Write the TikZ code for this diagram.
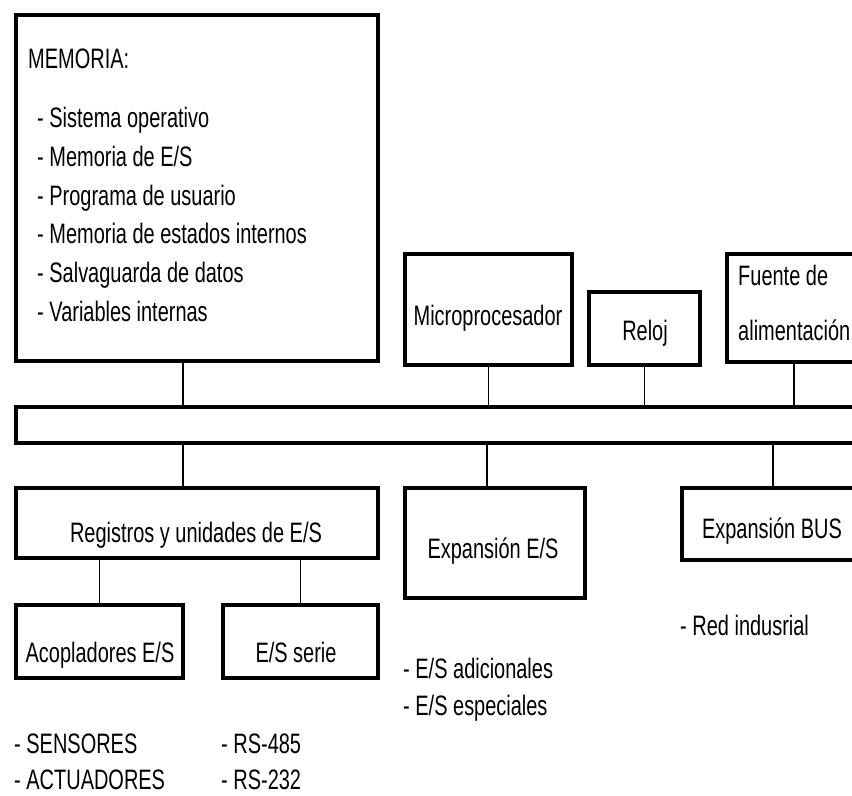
\documentclass[tikz,border=0pt]{standalone}
\usepackage{fontspec}
\setmainfont{Liberation Sans}[FakeStretch=0.71]
\usetikzlibrary{positioning}

\begin{document}
\begin{tikzpicture}[x=0.03cm, y=-0.03cm,
  blk/.style={draw, line width=3.4pt, inner sep=0pt},
  wire/.style={line width=1.2pt},
  lbl/.style={inner sep=0pt, anchor=base, font=\fontsize{24}{28}\selectfont},
  item/.style={lbl, anchor=base west}
]
  \clip (0,0) rectangle (852,795);
  \fill[white] (0,0) rectangle (852,795);
  % CPU side
  \node[blk, minimum width=10.86cm, minimum height=10.38cm] (mem) at (197,188) {};
  \node[blk, minimum width=5.01cm, minimum height=3.33cm] (cpu) at (488.5,309.5) {};
  \node[blk, minimum width=3.33cm, minimum height=2.19cm] (clk) at (644.5,328.5) {};
  \node[blk, minimum width=4.02cm, minimum height=3.24cm] (psu) at (794,308) {};
  % bus
  \node[blk, minimum width=26.52cm, minimum height=1.08cm] (bus) at (458,425) {};
  % I/O side
  \node[blk, minimum width=10.86cm, minimum height=2.1cm] (reg) at (197,523) {};
  \node[blk, minimum width=5.4cm, minimum height=3.3cm] (exio) at (495,543) {};
  \node[blk, minimum width=5.46cm, minimum height=2.16cm] (exbus) at (773,524) {};
  \node[blk, minimum width=5.01cm, minimum height=2.19cm] (acop) at (99.5,641.5) {};
  \node[blk, minimum width=4.65cm, minimum height=2.19cm] (ser) at (300.5,641.5) {};

  % connections to the bus
  \coordinate (memtap) at ([xshift=-0.42cm]mem.south);
  \draw[wire] (memtap) -- (memtap |- bus.north);
  \draw[wire] (cpu.south) -- (cpu.south |- bus.north);
  \draw[wire] (clk.south) -- (clk.south |- bus.north);
  \draw[wire] (psu.south) -- (psu.south |- bus.north);
  \coordinate (regtap) at ([xshift=-0.42cm]reg.north);
  \draw[wire] (regtap |- bus.south) -- (regtap);
  \coordinate (exiotap) at ([xshift=-0.24cm]exio.north);
  \draw[wire] (exiotap |- bus.south) -- (exiotap);
  \draw[wire] (exbus.north |- bus.south) -- (exbus.north);
  \draw[wire] (acop.north |- reg.south) -- (acop.north);
  \draw[wire] (ser.north |- reg.south) -- (ser.north);

  % memory contents
  \node[item] (memt) at (28,69) {MEMORIA:};
  \foreach \txt [count=\i from 0] in {Sistema operativo, Memoria de E/S,
      Programa de usuario, Memoria de estados internos,
      Salvaguarda de datos, Variables internas}
    \node[item] (memi\i) at (37,128+38.6*\i) {- \txt};

  % box labels
  \node[lbl] (cput) at (488,325) {Microprocesador};
  \node[lbl] (clkt) at (645,340) {Reloj};
  \node[item] (psut1) at (738,285) {Fuente de};
  \node[item] (psut2) at (738,340) {alimentación};
  \node[lbl] (regt) at (196,542) {Registros y unidades de E/S};
  \node[lbl] (exiot) at (493,558) {Expansión E/S};
  \node[lbl] (exbust) at (772,538) {Expansión BUS};
  \node[lbl] (acopt) at (100,662) {Acopladores E/S};
  \node[lbl] (sert) at (296,662) {E/S serie};

  % notes under the boxes
  \node[item] (sens) at (14,753) {- SENSORES};
  \node[item] (act) at (14,789) {- ACTUADORES};
  \node[item] (rs485) at (221,753) {- RS-485};
  \node[item] (rs232) at (221,789) {- RS-232};
  \node[item] (esad) at (403,678) {- E/S adicionales};
  \node[item] (esesp) at (403,715) {- E/S especiales};
  \node[item] (red) at (680,635) {- Red indusrial};
\end{tikzpicture}
\end{document}
